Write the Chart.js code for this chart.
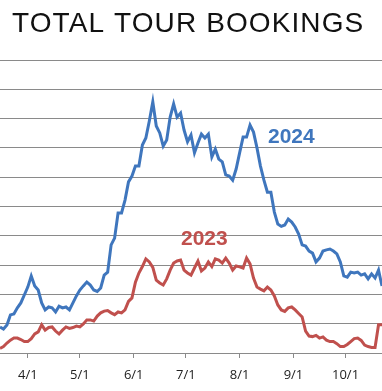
<!DOCTYPE html>
<html>
<head>
<meta charset="utf-8">
<script src="https://cdn.jsdelivr.net/npm/chart.js@4"></script>
<style>
  html, body { margin: 0; padding: 0; background: #fff; }
  #wrap { width: 382px; height: 391px; }
</style>
</head>
<body>
<div id="wrap"><canvas id="mainChart" width="382" height="391"></canvas></div>
<script>
// tour bookings, every 2nd day; x = days since 4/1
const days = [];
for (let d = -16; d <= 204; d += 2) days.push(d);

const bookings2024 = [
  8.9, 8.2, 9.6, 13.0, 13.3, 15.4, 17.1, 19.8, 22.5, 26.3, 22.9, 21.5, 17.1, 14.7, 15.7, 15.4,
  14.0, 16.0, 15.4, 15.7, 14.7, 17.1, 19.5, 21.5, 22.9, 24.2, 23.2, 21.5, 21.0, 22.2, 26.6, 27.6,
  36.9, 39.2, 47.8, 47.8, 52.2, 58.4, 60.4, 63.8, 63.8, 71.0, 73.4, 79.2, 85.7, 77.5, 75.1, 70.6,
  72.7, 80.5, 85.0, 80.5, 81.9, 76.1, 72.1, 74.4, 68.3, 71.7, 74.7, 73.4, 74.7, 66.9, 69.6, 66.2,
  65.2, 60.8, 60.4, 59.0, 62.8, 68.3, 73.7, 73.7, 77.8, 75.4, 70.0, 63.8, 59.0, 54.9, 54.9, 48.1,
  44.0, 43.2, 43.7, 45.7, 44.7, 43.0, 40.6, 36.9, 36.5, 34.8, 34.1, 31.1, 32.4, 34.8, 35.2, 35.5,
  34.8, 33.8, 31.1, 26.3, 25.9, 27.6, 27.3, 27.6, 26.6, 27.0, 25.3, 27.0, 25.6, 28.3, 22.9
];

const bookings2023 = [
  1.6, 2.2, 3.4, 4.4, 5.1, 5.1, 4.6, 3.9, 3.9, 4.9, 6.5, 7.2, 9.6, 7.8, 8.7, 8.9,
  7.5, 6.5, 7.8, 8.9, 8.4, 8.7, 9.2, 8.9, 9.9, 11.3, 11.3, 10.9, 12.6, 13.7, 14.3, 14.5,
  13.7, 13.1, 14.0, 13.7, 14.7, 17.6, 18.8, 24.2, 27.3, 29.5, 32.1, 31.1, 29.2, 24.9, 23.9, 23.2,
  25.3, 28.3, 30.7, 31.4, 31.7, 28.3, 27.3, 26.6, 29.0, 31.4, 28.0, 29.0, 31.1, 29.5, 32.1, 31.7,
  30.7, 32.4, 30.7, 28.3, 29.7, 29.4, 29.0, 32.4, 30.4, 25.6, 22.5, 21.8, 21.2, 22.5, 21.5, 19.5,
  16.4, 14.7, 14.2, 15.4, 15.7, 14.7, 13.5, 12.3, 7.5, 5.8, 5.6, 6.0, 5.1, 5.5, 4.4, 3.9,
  3.9, 3.2, 2.2, 2.2, 2.9, 3.9, 4.9, 5.1, 4.3, 2.7, 2.2, 1.9, 1.9, 9.6, 9.6
];

const monthTicks = [0, 30, 61, 91, 122, 153, 183];
const monthLabels = ['4/1', '5/1', '6/1', '7/1', '8/1', '9/1', '10/1'];

const BLUE = '#3f76bd';
const RED = '#c0504d';
const GRID = '#8a8a8a';

// title and series labels drawn straight on the canvas
const textPlugin = {
  id: 'textPlugin',
  afterDraw(chart) {
    const ctx = chart.ctx;
    ctx.save();
    ctx.textBaseline = 'alphabetic';
    ctx.textAlign = 'left';
    ctx.fillStyle = '#111';
    ctx.font = '28px "Liberation Sans", Arial, sans-serif';
    ctx.letterSpacing = '1.1px';
    ctx.fillText('TOTAL TOUR BOOKINGS', 12, 32);
    ctx.letterSpacing = '0px';
    ctx.font = 'bold 21px "Liberation Sans", Arial, sans-serif';
    ctx.fillStyle = BLUE;
    ctx.fillText('2024', 268, 143);
    ctx.fillStyle = RED;
    ctx.fillText('2023', 181, 245);
    ctx.restore();
  }
};

const toPts = vals => days.map((d, i) => ({ x: d, y: vals[i] }));

new Chart(document.getElementById('mainChart').getContext('2d'), {
  type: 'line',
  data: {
    datasets: [
      { label: '2023', data: toPts(bookings2023), borderColor: RED, borderWidth: 3, pointRadius: 0, tension: 0 },
      { label: '2024', data: toPts(bookings2024), borderColor: BLUE, borderWidth: 3, pointRadius: 0, tension: 0 }
    ]
  },
  options: {
    responsive: false,
    animation: false,
    layout: { padding: { top: 60, bottom: 10, left: 0, right: 0 } },
    plugins: { legend: { display: false }, tooltip: { enabled: false }, title: { display: false } },
    scales: {
      x: {
        type: 'linear',
        min: -16,
        max: 204,
        afterBuildTicks: axis => { axis.ticks = monthTicks.map(v => ({ value: v })); },
        afterFit: axis => { axis.height = 28; },
        ticks: {
          autoSkip: false,
          maxRotation: 0,
          padding: 9,
          color: '#222',
          font: { family: '"Open Sans", sans-serif', size: 13 },
          callback: v => monthLabels[monthTicks.indexOf(v)]
        },
        grid: { display: true, drawOnChartArea: false, drawTicks: true, tickLength: 5, color: GRID },
        border: { display: true, color: GRID }
      },
      y: {
        min: 0,
        max: 100,
        afterFit: axis => { axis.width = 0; },
        ticks: { display: false, stepSize: 10 },
        grid: { color: GRID, lineWidth: 1, drawTicks: false },
        border: { display: false }
      }
    }
  },
  plugins: [textPlugin]
});
</script>
</body>
</html>
